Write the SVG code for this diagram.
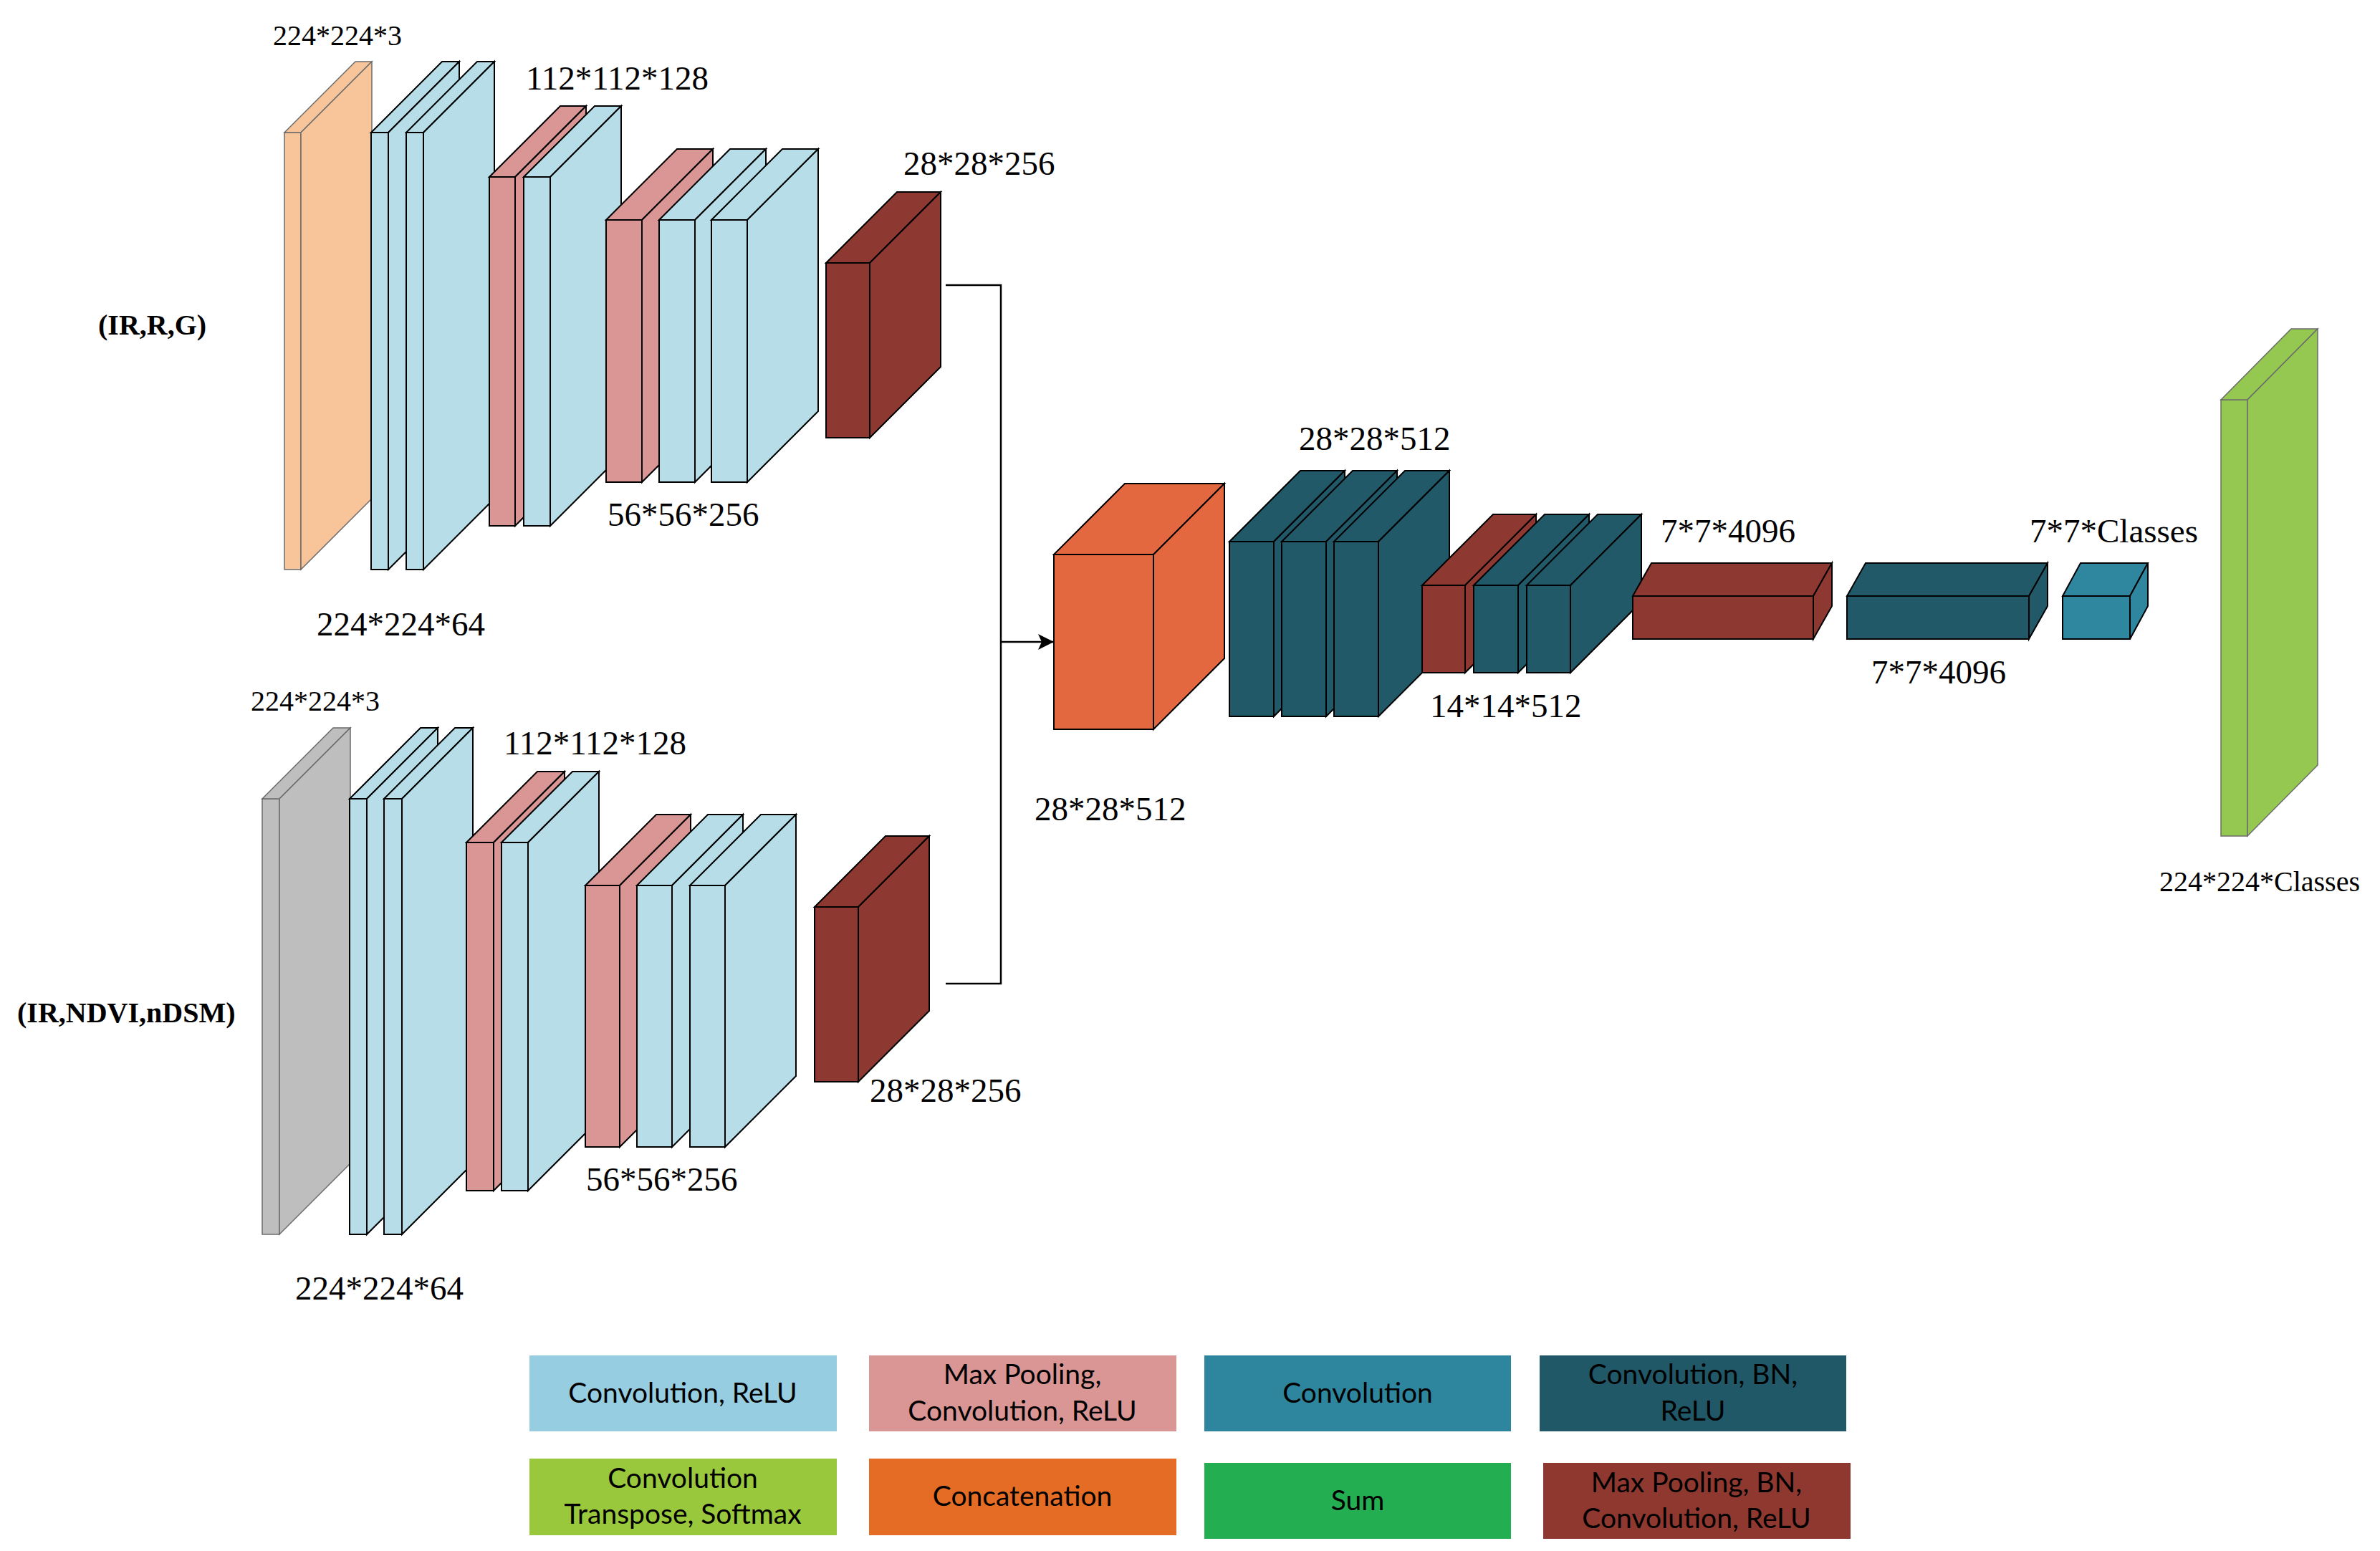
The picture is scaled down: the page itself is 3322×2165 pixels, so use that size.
<svg xmlns="http://www.w3.org/2000/svg" width="3322" height="2165" viewBox="0 0 3322 2165">
<defs>
<style>
.lb{font-family:"Liberation Serif","Times New Roman",serif;font-size:47px;fill:#000}
.ls{font-family:"Liberation Serif","Times New Roman",serif;font-size:40px;fill:#000}
.lbold{font-family:"Liberation Serif","Times New Roman",serif;font-size:40px;font-weight:bold;fill:#000}
.lg{font-family:Lato,"Liberation Sans",sans-serif;font-size:39px;fill:#000;text-anchor:middle}
.s{stroke:#000;stroke-width:2;stroke-linejoin:miter}
.t{stroke:#6b6b6b;stroke-width:1.5}
.blue{fill:#B7DEE8}
.pink{fill:#D99694}
.dred{fill:#8E3832}
.orin{fill:#F8C59A}
.gray{fill:#BFBEBE}
.conc{fill:#E4683F}
.teal{fill:#215968}
.conv{fill:#2E869F}
.green{fill:#95C851}
.conn{fill:none;stroke:#000;stroke-width:2.5}
</style>
<marker id="ah" markerUnits="userSpaceOnUse" markerWidth="24" markerHeight="24" refX="21" refY="11" orient="auto">
<path d="M0,0 L22,11 L0,22 L5,11 Z" fill="#000"/>
</marker>
</defs>
<rect width="3322" height="2165" fill="#fff"/>

<!-- Top branch -->
<g id="in-top" class="orin t">
<rect x="397" y="185" width="23" height="610"/>
<polygon points="397,185 496,86 519,86 420,185"/>
<polygon points="420,185 519,86 519,696 420,795"/>
</g>
<g id="top-conv1" class="blue s">
<rect x="518" y="185" width="24" height="610"/>
<polygon points="518,185 617,86 641,86 542,185"/>
<polygon points="542,185 641,86 641,696 542,795"/>
</g>
<g id="top-conv2" class="blue s">
<rect x="567" y="185" width="24" height="610"/>
<polygon points="567,185 666,86 690,86 591,185"/>
<polygon points="591,185 690,86 690,696 591,795"/>
</g>
<g id="top-pool1" class="pink s">
<rect x="683" y="247" width="36" height="487"/>
<polygon points="683,247 782,148 818,148 719,247"/>
<polygon points="719,247 818,148 818,635 719,734"/>
</g>
<g id="top-conv3" class="blue s">
<rect x="731" y="247" width="37" height="487"/>
<polygon points="731,247 830,148 867,148 768,247"/>
<polygon points="768,247 867,148 867,635 768,734"/>
</g>
<g id="top-pool2" class="pink s">
<rect x="846" y="307" width="50" height="366"/>
<polygon points="846,307 945,208 995,208 896,307"/>
<polygon points="896,307 995,208 995,574 896,673"/>
</g>
<g id="top-conv4" class="blue s">
<rect x="920" y="307" width="50" height="366"/>
<polygon points="920,307 1019,208 1069,208 970,307"/>
<polygon points="970,307 1069,208 1069,574 970,673"/>
</g>
<g id="top-conv5" class="blue s">
<rect x="993" y="307" width="50" height="366"/>
<polygon points="993,307 1092,208 1142,208 1043,307"/>
<polygon points="1043,307 1142,208 1142,574 1043,673"/>
</g>
<g id="top-pool3" class="dred s">
<rect x="1153" y="367" width="61" height="244"/>
<polygon points="1153,367 1252,268 1313,268 1214,367"/>
<polygon points="1214,367 1313,268 1313,512 1214,611"/>
</g>

<!-- Bottom branch -->
<g id="in-bottom" class="gray t">
<rect x="366" y="1115" width="24" height="608"/>
<polygon points="366,1115 465,1016 489,1016 390,1115"/>
<polygon points="390,1115 489,1016 489,1624 390,1723"/>
</g>
<g id="bot-conv1" class="blue s">
<rect x="488" y="1115" width="24" height="608"/>
<polygon points="488,1115 587,1016 611,1016 512,1115"/>
<polygon points="512,1115 611,1016 611,1624 512,1723"/>
</g>
<g id="bot-conv2" class="blue s">
<rect x="536" y="1115" width="25" height="608"/>
<polygon points="536,1115 635,1016 660,1016 561,1115"/>
<polygon points="561,1115 660,1016 660,1624 561,1723"/>
</g>
<g id="bot-pool1" class="pink s">
<rect x="651" y="1176" width="38" height="486"/>
<polygon points="651,1176 750,1077 788,1077 689,1176"/>
<polygon points="689,1176 788,1077 788,1563 689,1662"/>
</g>
<g id="bot-conv3" class="blue s">
<rect x="700" y="1176" width="37" height="486"/>
<polygon points="700,1176 799,1077 836,1077 737,1176"/>
<polygon points="737,1176 836,1077 836,1563 737,1662"/>
</g>
<g id="bot-pool2" class="pink s">
<rect x="817" y="1236" width="48" height="365"/>
<polygon points="817,1236 916,1137 964,1137 865,1236"/>
<polygon points="865,1236 964,1137 964,1502 865,1601"/>
</g>
<g id="bot-conv4" class="blue s">
<rect x="889" y="1236" width="49" height="365"/>
<polygon points="889,1236 988,1137 1037,1137 938,1236"/>
<polygon points="938,1236 1037,1137 1037,1502 938,1601"/>
</g>
<g id="bot-conv5" class="blue s">
<rect x="963" y="1236" width="49" height="365"/>
<polygon points="963,1236 1062,1137 1111,1137 1012,1236"/>
<polygon points="1012,1236 1111,1137 1111,1502 1012,1601"/>
</g>
<g id="bot-pool3" class="dred s">
<rect x="1137" y="1266" width="61" height="244"/>
<polygon points="1137,1266 1236,1167 1297,1167 1198,1266"/>
<polygon points="1198,1266 1297,1167 1297,1411 1198,1510"/>
</g>

<!-- Middle -->
<g id="concat" class="conc s">
<rect x="1471" y="774" width="139" height="244"/>
<polygon points="1471,774 1570,675 1709,675 1610,774"/>
<polygon points="1610,774 1709,675 1709,919 1610,1018"/>
</g>
<g id="mid-conv1" class="teal s">
<rect x="1716" y="756" width="62" height="244"/>
<polygon points="1716,756 1815,657 1877,657 1778,756"/>
<polygon points="1778,756 1877,657 1877,901 1778,1000"/>
</g>
<g id="mid-conv2" class="teal s">
<rect x="1789" y="756" width="62" height="244"/>
<polygon points="1789,756 1888,657 1950,657 1851,756"/>
<polygon points="1851,756 1950,657 1950,901 1851,1000"/>
</g>
<g id="mid-conv3" class="teal s">
<rect x="1862" y="756" width="62" height="244"/>
<polygon points="1862,756 1961,657 2023,657 1924,756"/>
<polygon points="1924,756 2023,657 2023,901 1924,1000"/>
</g>
<g id="mid-pool" class="dred s">
<rect x="1985" y="817" width="60" height="122"/>
<polygon points="1985,817 2084,718 2144,718 2045,817"/>
<polygon points="2045,817 2144,718 2144,840 2045,939"/>
</g>
<g id="mid-conv4" class="teal s">
<rect x="2057" y="817" width="62" height="122"/>
<polygon points="2057,817 2156,718 2218,718 2119,817"/>
<polygon points="2119,817 2218,718 2218,840 2119,939"/>
</g>
<g id="mid-conv5" class="teal s">
<rect x="2131" y="817" width="61" height="122"/>
<polygon points="2131,817 2230,718 2291,718 2192,817"/>
<polygon points="2192,817 2291,718 2291,840 2192,939"/>
</g>

<!-- Right -->
<g id="fc-pool" class="dred s">
<rect x="2279" y="832" width="252" height="60"/>
<polygon points="2279,832 2305,786 2557,786 2531,832"/>
<polygon points="2531,832 2557,786 2557,846 2531,892"/>
</g>
<g id="fc-conv" class="teal s">
<rect x="2578" y="832" width="254" height="60"/>
<polygon points="2578,832 2604,786 2858,786 2832,832"/>
<polygon points="2832,832 2858,786 2858,846 2832,892"/>
</g>
<g id="score" class="conv s">
<rect x="2879" y="832" width="94" height="60"/>
<polygon points="2879,832 2904,786 2998,786 2973,832"/>
<polygon points="2973,832 2998,786 2998,846 2973,892"/>
</g>
<g id="output" class="green t">
<rect x="3100" y="558" width="37" height="609"/>
<polygon points="3100,558 3198,459 3235,459 3137,558"/>
<polygon points="3137,558 3235,459 3235,1068 3137,1167"/>
</g>

<!-- Connectors -->
<g id="connectors">
<path class="conn" d="M1320,398 H1397 V1373 H1320"/>
<path class="conn" d="M1397,896 H1470" marker-end="url(#ah)"/>
</g>

<!-- Labels -->
<g id="labels">
<text class="lbold" x="137" y="467">(IR,R,G)</text>
<text class="lbold" x="24" y="1427">(IR,NDVI,nDSM)</text>
<text class="ls" x="381" y="63">224*224*3</text>
<text class="lb" x="734" y="125">112*112*128</text>
<text class="lb" x="1261" y="244">28*28*256</text>
<text class="lb" x="848" y="734">56*56*256</text>
<text class="lb" x="442" y="887">224*224*64</text>
<text class="ls" x="350" y="992">224*224*3</text>
<text class="lb" x="703" y="1053">112*112*128</text>
<text class="lb" x="818" y="1662">56*56*256</text>
<text class="lb" x="1214" y="1538">28*28*256</text>
<text class="lb" x="412" y="1814">224*224*64</text>
<text class="lb" x="1444" y="1145">28*28*512</text>
<text class="lb" x="1813" y="628">28*28*512</text>
<text class="lb" x="1996" y="1001">14*14*512</text>
<text class="lb" x="2318" y="757">7*7*4096</text>
<text class="lb" x="2833" y="757">7*7*Classes</text>
<text class="lb" x="2612" y="954">7*7*4096</text>
<text class="ls" x="3014" y="1244">224*224*Classes</text>
</g>

<!-- Legend -->
<g id="legend-conv-relu">
<rect x="739" y="1892" width="429" height="106" fill="#96CDE0"/>
<text class="lg" x="953" y="1958">Convolution, ReLU</text>
</g>
<g id="legend-maxpool-conv-relu">
<rect x="1213" y="1892" width="429" height="106" fill="#D99694"/>
<text class="lg" x="1427" y="1932">Max Pooling,</text>
<text class="lg" x="1427" y="1983">Convolution, ReLU</text>
</g>
<g id="legend-conv">
<rect x="1681" y="1892" width="428" height="106" fill="#2D869E"/>
<text class="lg" x="1895" y="1958">Convolution</text>
</g>
<g id="legend-conv-bn-relu">
<rect x="2149" y="1892" width="428" height="106" fill="#215867"/>
<text class="lg" x="2363" y="1932">Convolution, BN,</text>
<text class="lg" x="2363" y="1983">ReLU</text>
</g>
<g id="legend-conv-transpose">
<rect x="739" y="2036" width="429" height="107" fill="#9AC83C"/>
<text class="lg" x="953" y="2077">Convolution</text>
<text class="lg" x="953" y="2127">Transpose, Softmax</text>
</g>
<g id="legend-concat">
<rect x="1213" y="2036" width="429" height="107" fill="#E46C24"/>
<text class="lg" x="1427" y="2102">Concatenation</text>
</g>
<g id="legend-sum">
<rect x="1681" y="2042" width="428" height="106" fill="#23AE52"/>
<text class="lg" x="1895" y="2108">Sum</text>
</g>
<g id="legend-maxpool-bn">
<rect x="2154" y="2042" width="429" height="106" fill="#8F3830"/>
<text class="lg" x="2368" y="2083">Max Pooling, BN,</text>
<text class="lg" x="2368" y="2133">Convolution, ReLU</text>
</g>
</svg>
